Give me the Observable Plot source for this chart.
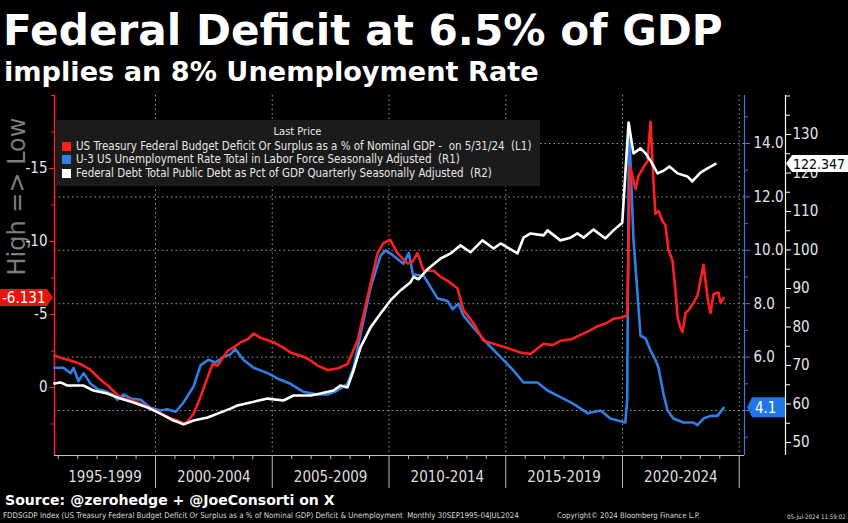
<!DOCTYPE html>
<html><head><meta charset="utf-8">
<script src="https://cdn.jsdelivr.net/npm/d3@7"></script>
<script src="https://cdn.jsdelivr.net/npm/@observablehq/plot@0.6"></script>
<style>
html,body{margin:0;padding:0;background:#000;}
body{width:848px;height:523px;overflow:hidden;position:relative;font-family:"DejaVu Sans",sans-serif;color:#fff;}
#chart{position:absolute;left:0;top:0;}
.abs{position:absolute;white-space:nowrap;line-height:1;}
#title,#subtitle,#source{font-weight:bold;font-family:"DejaVu Sans",sans-serif;}
#legend{position:absolute;left:55px;top:120px;width:485px;height:66px;background:#1b1b1b;font-family:"DejaVu Sans Condensed","DejaVu Sans",sans-serif;font-stretch:condensed;color:#e6e6e6;}
#legend .row{position:absolute;left:7px;white-space:nowrap;line-height:1;}
#legend .sw{display:inline-block;width:9px;height:9px;margin-right:5px;vertical-align:-1px;}
#legend .head{position:absolute;left:0;width:100%;text-align:center;top:6px;font-size:11px;line-height:1;}
.foot{font-family:"DejaVu Sans Condensed","DejaVu Sans",sans-serif;font-stretch:condensed;color:#d8d8d8;}
</style></head><body>
<div id="chart"></div>
<div id="title" class="abs">Federal Deficit at 6.5% of GDP</div>
<div id="subtitle" class="abs">implies an 8% Unemployment Rate</div>
<div id="legend">
  <div class="head">Last Price</div>
  <div class="row" id="lg0"><span class="sw" style="background:#ff1f1f"></span><span class="tx">US Treasury Federal Budget Deficit Or Surplus as a % of Nominal GDP -&nbsp; on 5/31/24&nbsp; (L1)</span></div>
  <div class="row" id="lg1"><span class="sw" style="background:#2f80e6"></span><span class="tx">U-3 US Unemployment Rate Total in Labor Force Seasonally Adjusted&nbsp; (R1)</span></div>
  <div class="row" id="lg2"><span class="sw" style="background:#ffffff"></span><span class="tx">Federal Debt Total Public Debt as Pct of GDP Quarterly Seasonally Adjusted&nbsp; (R2)</span></div>
</div>
<div id="source" class="abs">Source: @zerohedge + @JoeConsorti on X</div>
<div id="f1" class="abs foot">FDDSGDP Index (US Treasury Federal Budget Deficit Or Surplus as a % of Nominal GDP) Deficit &amp; Unemployment&nbsp; Monthly 30SEP1995-04JUL2024</div>
<div id="f2" class="abs foot">Copyright© 2024 Bloomberg Finance L.P.</div>
<div id="f3" class="abs foot">05-Jul-2024 11:59:02</div>
<script>
// ---------- data ----------
const deficitYears = [1995.67,1996.0,1996.36,1996.8,1997.22,1997.6,1997.94,1998.5,1999.0,1999.36,2000.0,2000.64,2001.0,2001.28,2001.63,2001.9,2002.14,2002.44,2002.66,2003.08,2003.4,2003.64,2003.95,2004.2,2004.5,2005.05,2005.4,2005.78,2006.34,2006.6,2006.94,2007.37,2007.79,2008.22,2008.65,2009.08,2009.51,2009.76,2010.06,2010.36,2010.79,2011.0,2011.22,2011.48,2011.91,2012.2,2012.51,2012.93,2013.19,2013.62,2014.05,2014.48,2015.07,2015.63,2016.06,2016.3,2016.62,2017.0,2017.34,2017.8,2018.2,2018.6,2018.93,2019.3,2019.61,2019.95,2020.2,2020.33,2020.56,2020.69,2020.9,2021.07,2021.2,2021.33,2021.41,2021.54,2021.71,2021.84,2021.97,2022.14,2022.27,2022.36,2022.48,2022.57,2022.7,2022.83,2023.04,2023.21,2023.47,2023.64,2023.68,2023.77,2023.9,2024.11,2024.2,2024.33];
const deficitValues = [-2.2,-2.0,-1.85,-1.6,-1.2,-0.6,-0.15,0.7,0.9,1.1,1.6,2.1,2.3,2.5,1.8,0.75,-0.3,-1.6,-1.5,-2.5,-2.8,-3.1,-3.3,-3.7,-3.4,-3.1,-2.8,-2.4,-2.1,-1.9,-1.5,-1.2,-1.3,-1.6,-3.2,-6.2,-9.2,-9.9,-10.1,-9.2,-8.5,-8.6,-9.2,-8.0,-8.0,-7.6,-7.3,-6.8,-5.3,-4.4,-3.2,-3.0,-2.7,-2.4,-2.3,-2.6,-3.0,-2.9,-3.2,-3.3,-3.6,-3.9,-4.2,-4.4,-4.7,-4.8,-4.95,-15.1,-13.6,-14.5,-15.1,-15.5,-18.2,-14.0,-11.9,-12.1,-11.4,-11.1,-9.4,-8.7,-6.6,-4.8,-4.1,-3.8,-5.1,-5.3,-5.8,-6.3,-8.4,-6.2,-5.8,-5.1,-6.4,-6.5,-5.8,-6.131];

const unempYears = [1995.67,1996.05,1996.36,1996.49,1996.7,1996.92,1997.22,1997.52,1997.77,1998.16,1998.37,1998.63,1998.93,1999.36,1999.79,2000.21,2000.51,2000.86,2001.2,2001.63,2001.93,2002.27,2002.57,2002.91,2003.2,2003.42,2003.76,2004.2,2004.8,2005.22,2005.78,2006.34,2006.94,2007.37,2007.79,2008.22,2008.48,2008.91,2009.21,2009.64,2009.85,2010.19,2010.62,2010.85,2011.02,2011.48,2012.08,2012.51,2012.72,2012.98,2013.19,2013.62,2014.22,2014.78,2015.33,2015.76,2016.36,2016.79,2017.34,2017.9,2018.5,2019.06,2019.48,2019.91,2020.12,2020.2,2020.28,2020.47,2020.64,2020.77,2020.99,2021.2,2021.41,2021.54,2021.76,2021.93,2022.18,2022.61,2023.04,2023.21,2023.47,2023.77,2024.07,2024.33];
const unempValues = [5.6,5.6,5.4,5.6,5.1,5.4,5.0,4.8,4.75,4.6,4.4,4.6,4.45,4.4,4.1,4.0,4.05,3.95,4.3,4.9,5.7,5.9,5.8,6.0,6.1,6.3,5.9,5.6,5.4,5.2,5.0,4.7,4.6,4.6,4.75,5.0,5.6,7.4,8.6,9.8,10.0,9.8,9.5,9.9,9.1,9.05,8.2,8.1,7.8,8.0,7.55,7.1,6.5,6.0,5.5,5.05,5.05,4.75,4.5,4.25,3.9,4.0,3.7,3.6,3.55,4.4,14.7,10.4,8.4,6.8,6.7,6.25,5.9,5.6,4.6,4.0,3.7,3.55,3.55,3.45,3.7,3.8,3.8,4.1];

const debtYears = [1995.67,1995.93,1996.22,1996.91,1997.34,1997.94,1998.5,1999.06,1999.66,2000.21,2000.77,2001.01,2001.2,2001.63,2002.23,2002.66,2003.21,2003.51,2004.07,2004.8,2005.48,2005.91,2006.64,2007.07,2007.62,2007.92,2008.22,2008.48,2008.78,2009.21,2009.64,2010.06,2010.49,2010.92,2011.05,2011.26,2011.65,2012.21,2012.64,2013.06,2013.49,2014.0,2014.48,2014.78,2015.5,2015.76,2016.06,2016.62,2016.79,2017.34,2017.77,2018.07,2018.33,2018.76,2019.27,2019.61,2019.99,2020.26,2020.47,2020.77,2020.99,2021.2,2021.5,2021.76,2022.01,2022.36,2022.78,2022.99,2023.34,2023.64,2023.98];
const debtValues = [65.3,65.6,64.8,64.8,63.5,62.7,61.4,60.4,59.1,57.5,55.7,55.2,54.7,55.7,56.5,57.5,58.8,59.6,60.4,61.4,60.9,62.2,62.2,62.7,63.5,64.8,64.3,68.7,74.7,79.9,83.5,86.9,89.5,91.6,93.0,92.4,95.0,97.8,99.1,101.2,99.4,102.5,100.4,101.7,99.1,103.2,104.3,103.8,105.1,102.5,103.2,104.3,103.2,105.3,103.0,105.1,107.1,133.1,125.1,126.4,125.1,123.2,119.9,120.6,121.7,119.9,119.1,117.8,120.1,121.2,122.347];

const periodLabels = ["1995-1999","2000-2004","2005-2009","2010-2014","2015-2019","2020-2024"];
const periodStarts = [1995,2000,2005,2010,2015,2020];
const deficitTicks = [-15,-10,-5,0];
const deficitMinorTicks = [-20,-17.5,-12.5,-7.5,-2.5,2.5];
const unempTicks = [4,6,8,10,12,14];
const unempMinorTicks = [3,5,7,9,11,13,15];
const debtTicks = [50,60,70,80,90,100,110,120,130];
const debtMinorTicks = [55,65,75,85,95,105,115,125,135,140];
const lastDeficit = -6.131, lastUnemp = 4.1, lastDebt = 122.347;

// ---------- colours ----------
const RED = "#ff1f1f", BLUE = "#2f80e6", WHITE = "#ffffff";

// ---------- scales ----------
const xDomain = [1995.674, 2025.225];
const yDomain = [4.658, -20];           // left axis (deficit, inverted)
const uScale = d3.scaleLinear([2.315, 15.798], yDomain);   // unemployment -> left units
const wScale = d3.scaleLinear([46.62, 140.13], yDomain);   // debt -> left units

const deficit = deficitYears.map((t, i) => ({t, v: deficitValues[i]}));
const unemp = unempYears.map((t, i) => ({t, v: uScale(unempValues[i])}));
const debt = debtYears.map((t, i) => ({t, v: wScale(debtValues[i])}));

const sepYears = [2000, 2005, 2010, 2015, 2020, 2025];
const smallTicks = [];
periodStarts.forEach(s => { for (let k = 1; k <= 5; k++) { const t = s + k * 5 / 6; if (t > xDomain[0] && t < xDomain[1]) smallTicks.push(t); } });
const periodCenter = i => (Math.max(periodStarts[i], xDomain[0]) + Math.min(periodStarts[i] + 5, xDomain[1])) / 2;

const COND = "DejaVu Sans Condensed, DejaVu Sans, sans-serif";

function flagMark(index, scales, values, dims) {
  const g = d3.create("svg:g").attr("font-family", COND).attr("font-stretch", "condensed").attr("text-anchor", "start");
  const y = scales.y;
  const L = dims.marginLeft, R = dims.width - dims.marginRight;
  // red (left)
  const yr = y(lastDeficit);
  g.append("path").attr("fill", "#e8120f")
    .attr("d", `M0,${yr-8.5}H${L-7}L${L-1},${yr}L${L-7},${yr+8.5}H0Z`);
  g.append("text").attr("x", 2).attr("y", yr).attr("dy", "0.36em").attr("fill", "#fff").attr("font-size", 15).text(String(lastDeficit));
  // blue (R1)
  const yb = y(uScale(lastUnemp));
  g.append("path").attr("fill", "#1f78e6")
    .attr("d", `M${R+3},${yb}L${R+8},${yb-10}H${R+41}V${yb+10}H${R+8}Z`);
  g.append("text").attr("x", R+11).attr("y", yb).attr("dy", "0.36em").attr("fill", "#fff").attr("font-size", 15).text(lastUnemp.toFixed(1));
  // white (R2)
  const yw = y(wScale(lastDebt));
  g.append("path").attr("fill", "#fff")
    .attr("d", `M${R+42},${yw}L${R+48},${yw-8.5}H${dims.width}V${yw+8.5}H${R+48}Z`);
  g.append("text").attr("x", R+49).attr("y", yw).attr("dy", "0.36em").attr("fill", "#000").attr("font-size", 14).text(String(lastDebt));
  return g.node();
}

const chart = Plot.plot({
  width: 848, height: 523,
  marginTop: 95, marginBottom: 68, marginLeft: 54, marginRight: 104,
  style: {background: "#000", color: "#fff", fontFamily: COND, fontSize: "15px", overflow: "visible"},
  x: {type: "linear", domain: xDomain, axis: null},
  y: {type: "linear", domain: yDomain, axis: null},
  marks: [
    Plot.gridY(unempTicks.map(uScale), {stroke: "#9a9a9a", strokeOpacity: 1, strokeDasharray: "1.5,3"}),
    Plot.gridX(sepYears, {stroke: "#9a9a9a", strokeOpacity: 1, strokeDasharray: "1.5,3"}),
    Plot.text(["High => Low"], {frameAnchor: "left", dx: -37, rotate: -90, fill: "#7d7d7d", fontSize: 24, fontFamily: "DejaVu Sans, sans-serif"}),
    // bottom axis
    Plot.ruleY([yDomain[0]], {stroke: "#bdbdbd"}),
    Plot.axisX(smallTicks, {anchor: "bottom", tickSize: 4, tickFormat: () => "", stroke: "#bdbdbd", label: null}),
    Plot.axisX(sepYears, {anchor: "bottom", tickSize: 33, tickFormat: () => "", stroke: "#bdbdbd", label: null}),
    Plot.text(periodLabels, {x: (d, i) => periodCenter(i), frameAnchor: "bottom", dy: 26, fill: "#dedede", fontSize: 15}),
    // left axis (deficit)
    Plot.ruleX([xDomain[0]], {stroke: RED, strokeWidth: 1.5}),
    Plot.axisY(deficitTicks, {anchor: "left", tickSize: 5, tickPadding: 2, stroke: RED, fill: "#e6e6e6", fontSize: 15, label: null, tickFormat: d => String(d)}),
    Plot.axisY(deficitMinorTicks, {anchor: "left", tickSize: 3, stroke: RED, tickFormat: () => "", label: null}),
    // R1 axis (unemployment) -- the 4.0 label sits under the last-value flag
    Plot.ruleX([xDomain[1]], {stroke: BLUE, strokeWidth: 1.2}),
    Plot.axisY(unempTicks.map(uScale), {anchor: "right", tickSize: 5, tickPadding: 4, stroke: BLUE, fill: "#e6e6e6", fontSize: 15, label: null, tickFormat: d => { const u = uScale.invert(d); return Math.abs(u - lastUnemp) < 0.5 ? "" : u.toFixed(1); }}),
    Plot.axisY(unempMinorTicks.map(uScale), {anchor: "right", tickSize: 3, stroke: BLUE, tickFormat: () => "", label: null}),
    // R2 axis (debt)
    Plot.ruleX([xDomain[1]], {stroke: WHITE, strokeWidth: 1.2, dx: 41}),
    Plot.axisY(debtTicks.map(wScale), {anchor: "right", dx: 41, tickSize: 5, tickPadding: 2, stroke: WHITE, fill: "#e6e6e6", fontSize: 15, label: null, tickFormat: d => Math.round(wScale.invert(d))}),
    Plot.axisY(debtMinorTicks.map(wScale), {anchor: "right", dx: 41, tickSize: 4, stroke: WHITE, tickFormat: () => "", label: null}),
    // series
    Plot.line(unemp, {x: "t", y: "v", stroke: BLUE, strokeWidth: 2.6, strokeLinejoin: "round"}),
    Plot.line(deficit, {x: "t", y: "v", stroke: RED, strokeWidth: 2.6, strokeLinejoin: "round"}),
    Plot.line(debt, {x: "t", y: "v", stroke: WHITE, strokeWidth: 2.6, strokeLinejoin: "round"}),
    flagMark
  ]
});
document.getElementById("chart").appendChild(chart);

// ---------- text fitting ----------
function place(id, left, baseline, width, asc) {
  const el = document.getElementById(id);
  el.style.left = left + "px";
  const fs0 = parseFloat(getComputedStyle(el).fontSize);
  const w = el.getBoundingClientRect().width;
  const fs = fs0 * width / w;
  el.style.fontSize = fs + "px";
  el.style.top = (baseline - (asc || 0.846) * fs) + "px";
}
place("title", 3, 46, 720);
place("subtitle", 4, 81, 535);
place("source", 5, 505, 330);
place("f1", 3, 519, 516);
place("f2", 557, 519, 143);
place("f3", 787, 519, 59);

// legend rows
const rows = [0,1,2].map(i => document.getElementById("lg" + i));
const centers = [27, 40, 54];
const tx0 = rows[0].querySelector(".tx");
rows.forEach(r => r.style.fontSize = "11px");
const w0 = tx0.getBoundingClientRect().width;
const lfs = 11 * 456 / w0;
rows.forEach((r, i) => { r.style.fontSize = lfs + "px"; r.style.top = (centers[i] - lfs * 0.5) + "px"; });
</script>
</body></html>
